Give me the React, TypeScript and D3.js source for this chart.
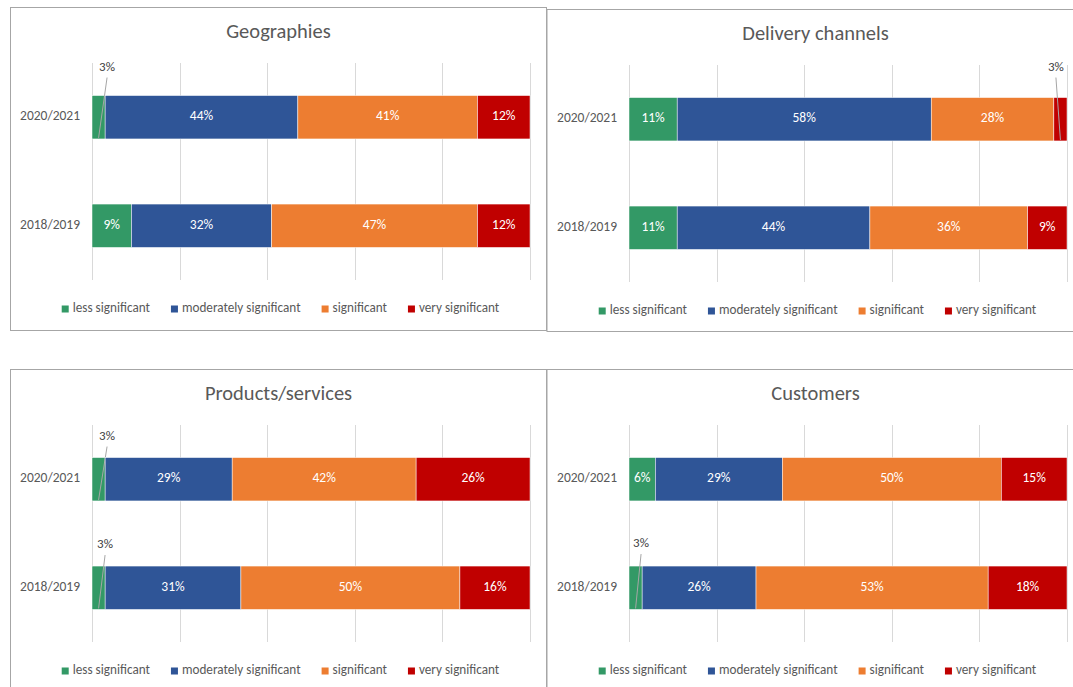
import React, { useEffect, useRef } from "react";
import * as d3 from "d3";

const categories = ["2020/2021", "2018/2019"];
const seriesNames = ["less significant", "moderately significant", "significant", "very significant"];
const seriesColors = ["#339966", "#2F5597", "#ED7D31", "#C00000"];
const ticks = [0, 20, 40, 60, 80, 100];

const panelTitles = ["Geographies", "Delivery channels", "Products/services", "Customers"];
// values per category (2020/2021, 2018/2019), per series
const geographies = [[3, 44, 41, 12], [9, 32, 47, 12]];
const deliveryChannels = [[11, 58, 28, 3], [11, 44, 36, 9]];
const productsServices = [[3, 29, 42, 26], [3, 31, 50, 16]];
const customers = [[6, 29, 50, 15], [3, 26, 53, 18]];
const panelData = [geographies, deliveryChannels, productsServices, customers];

// outside-label callouts: panel, category index, series index, label offset
const callouts = [
  { panel: 0, cat: 0, ser: 0, dx: 8.5, dy: -28 },
  { panel: 1, cat: 0, ser: 3, dx: -4.5, dy: -30 },
  { panel: 2, cat: 0, ser: 0, dx: 8.5, dy: -21 },
  { panel: 2, cat: 1, ser: 0, dx: 6.5, dy: -21 },
  { panel: 3, cat: 1, ser: 0, dx: 5.5, dy: -22 },
];

const panelFrames = [
  { x: 10, y: 7, w: 536, h: 323 },
  { x: 546.5, y: 9, w: 537, h: 322 },
  { x: 10, y: 369, w: 536, h: 330 },
  { x: 546.5, y: 369, w: 537, h: 330 },
];

const FONT = "Carlito, Calibri, Lato, 'Open Sans', sans-serif";

export default function App() {
  const ref = useRef<SVGSVGElement>(null);
  useEffect(() => {
    document.body.style.margin = "0";
    const svg = d3.select(ref.current);
    svg.selectAll("*").remove();
    svg.append("rect").attr("width", 1073).attr("height", 687).attr("fill", "#fff");

    panelFrames.forEach((f, pi) => {
      const g = svg.append("g");
      g.append("rect")
        .attr("x", f.x + 0.5)
        .attr("y", f.y + 0.5)
        .attr("width", f.w)
        .attr("height", f.h)
        .attr("fill", "none")
        .attr("stroke", "#a6a6a6")
        .attr("stroke-width", 1);

      const cx = f.x + f.w / 2 + 0.5;
      g.append("text")
        .attr("x", cx)
        .attr("y", f.y + 26)
        .attr("text-anchor", "middle")
        .attr("dominant-baseline", "middle")
        .attr("font-family", FONT)
        .attr("font-size", 20.5)
        .attr("fill", "#595959")
        .text(panelTitles[pi]);

      const left = f.x + 82 + (pi % 2 === 1 ? 0.5 : 0);
      const right = left + 438;
      const top = f.y + 56;
      const bottom = f.y + 273;
      const x = d3.scaleLinear().domain([0, 100]).range([left, right]);
      const y = d3.scaleBand<string>().domain(categories).range([top, bottom]).paddingInner(0.6).paddingOuter(0.3);

      g.selectAll(".grid")
        .data(ticks)
        .enter()
        .append("line")
        .attr("x1", (d) => Math.round(x(d)) + 0.5)
        .attr("x2", (d) => Math.round(x(d)) + 0.5)
        .attr("y1", top)
        .attr("y2", bottom)
        .attr("stroke", "#d9d9d9")
        .attr("stroke-width", 1);

      categories.forEach((c) => {
        g.append("text")
          .attr("x", left - 12)
          .attr("y", (y(c) as number) + y.bandwidth() / 2)
          .attr("text-anchor", "end")
          .attr("dominant-baseline", "middle")
          .attr("font-family", FONT)
          .attr("font-size", 13.5)
          .attr("fill", "#595959")
          .text(c);
      });

      const data = panelData[pi];
      categories.forEach((c, ci) => {
        const vals = data[ci];
        const stackEnds = d3.cumsum(vals);
        vals.forEach((v, si) => {
          const x0 = x(stackEnds[si] - v);
          const x1 = x(stackEnds[si]);
          const by = y(c) as number;
          g.append("rect")
            .attr("x", x0)
            .attr("y", by)
            .attr("width", x1 - x0)
            .attr("height", y.bandwidth())
            .attr("fill", seriesColors[si])
            .attr("stroke", "#ffffff")
            .attr("stroke-width", 0.5);
          const co = callouts.find((k) => k.panel === pi && k.cat === ci && k.ser === si);
          const mid = (x0 + x1) / 2;
          if (co) {
            const lx = mid + co.dx;
            const ly = by + co.dy;
            g.append("line")
              .attr("x1", lx)
              .attr("y1", ly + 10)
              .attr("x2", mid)
              .attr("y2", by + y.bandwidth() - 1)
              .attr("stroke", "#a6a6a6")
              .attr("stroke-width", 1);
            g.append("text")
              .attr("x", lx)
              .attr("y", ly)
              .attr("text-anchor", "middle")
              .attr("dominant-baseline", "middle")
              .attr("font-family", FONT)
              .attr("font-size", 13)
              .attr("fill", "#404040")
              .text(`${v}%`);
          } else {
            g.append("text")
              .attr("x", mid)
              .attr("y", by + y.bandwidth() / 2)
              .attr("text-anchor", "middle")
              .attr("dominant-baseline", "middle")
              .attr("font-family", FONT)
              .attr("font-size", 13.5)
              .attr("fill", "#ffffff")
              .text(`${v}%`);
          }
        });
      });

      const lg = g.append("g");
      let cursor = 0;
      seriesNames.forEach((name, si) => {
        const item = lg.append("g").attr("transform", `translate(${cursor},0)`);
        item.append("rect").attr("x", 0).attr("y", -3.5).attr("width", 7).attr("height", 7).attr("fill", seriesColors[si]);
        const t = item
          .append("text")
          .attr("x", 11)
          .attr("y", 0)
          .attr("dominant-baseline", "middle")
          .attr("font-family", FONT)
          .attr("font-size", 13.2)
          .attr("fill", "#595959")
          .text(name);
        const w = (t.node() as SVGTextElement).getComputedTextLength();
        cursor += 11 + w + (si < seriesNames.length - 1 ? 21 : 0);
      });
      lg.attr("transform", `translate(${cx + 2 - cursor / 2},${f.y + 302})`);
    });
  }, []);
  return <svg ref={ref} width={1073} height={687} style={{ display: "block" }} />;
}
